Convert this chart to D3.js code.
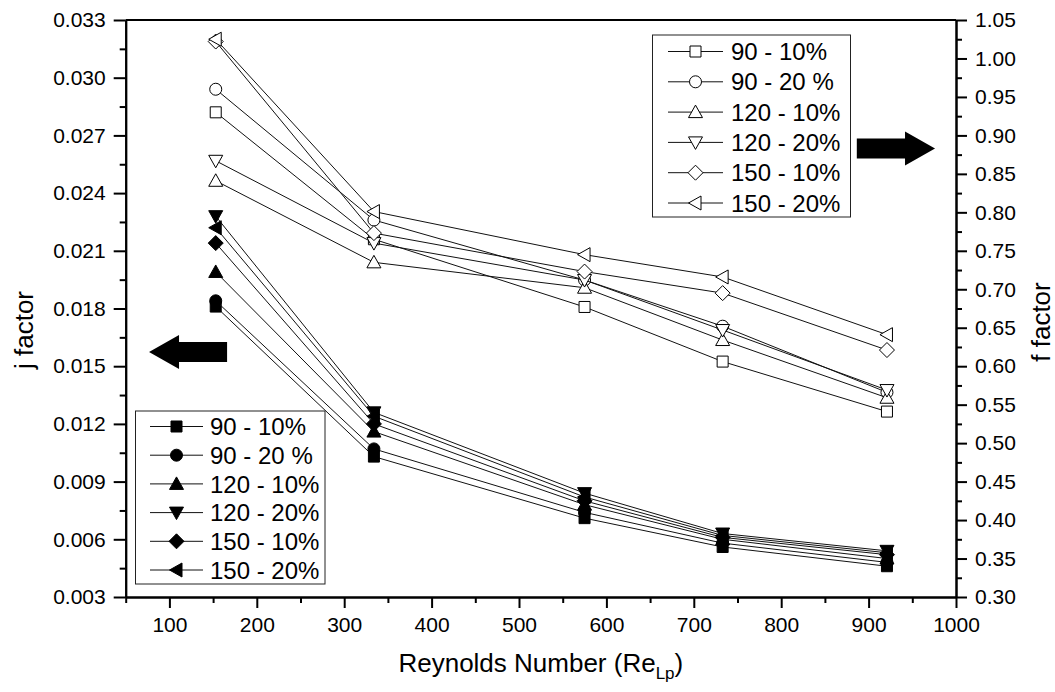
<!DOCTYPE html>
<html>
<head>
<meta charset="utf-8">
<script src="https://cdn.jsdelivr.net/npm/d3@7"></script>
<style>
    body { margin: 0; background: #fff; }
    svg text { font-family: "Liberation Sans", Arial, sans-serif; fill: #000; }
</style>
</head>
<body>
<script>
// Reynolds numbers (x) shared by every series
let reynolds = [153, 334, 575, 733, 921];
let seriesNames = ['90 - 10%', '90 - 20 %', '120 - 10%', '120 - 20%', '150 - 10%', '150 - 20%'];
let shapes = ['square', 'circle', 'triUp', 'triDown', 'diamond', 'triLeft'];

// j factor (filled markers, left axis)
let j90_10 = [0.0181, 0.0103, 0.0071, 0.0056, 0.0046];
let j90_20 = [0.0184, 0.0107, 0.0074, 0.0058, 0.0048];
let j120_10 = [0.0199, 0.0116, 0.0078, 0.0060, 0.0050];
let j120_20 = [0.0228, 0.0126, 0.0084, 0.0063, 0.0054];
let j150_10 = [0.0214, 0.0120, 0.0080, 0.0061, 0.0052];
let j150_20 = [0.0222, 0.0124, 0.0082, 0.0062, 0.0053];

// f factor (open markers, right axis)
let f90_10 = [0.930, 0.765, 0.677, 0.606, 0.541];
let f90_20 = [0.960, 0.790, 0.712, 0.652, 0.566];
let f120_10 = [0.841, 0.735, 0.702, 0.634, 0.559];
let f120_20 = [0.867, 0.760, 0.712, 0.647, 0.569];
let f150_10 = [1.022, 0.773, 0.723, 0.695, 0.621];
let f150_20 = [1.025, 0.801, 0.745, 0.716, 0.641];

let jTicks = d3.range(11).map(i => 0.003 + i * 0.003);
let fTicks = d3.range(16).map(i => 0.30 + i * 0.05);
let xTicks = d3.range(1, 11).map(i => i * 100);

let jSeries = [j90_10, j90_20, j120_10, j120_20, j150_10, j150_20];
let fSeries = [f90_10, f90_20, f120_10, f120_20, f150_10, f150_20];

let width = 1055;
let height = 692;
let plot = { left: 125.7, right: 956, top: 20, bottom: 597 };

let xScale = d3.scaleLinear().domain([50, 1000]).range([plot.left, plot.right]);
let yLeft = d3.scaleLinear().domain([0.003, 0.033]).range([plot.bottom, plot.top]);
let yRight = d3.scaleLinear().domain([0.30, 1.05]).range([plot.bottom, plot.top]);

let svg = d3.select("body").append("svg")
    .attr("width", width)
    .attr("height", height);

function shapePath(shape) {
    if (shape == 'square') return 'M-5.5,-5.5H5.5V5.5H-5.5Z';
    if (shape == 'circle') return 'M6,0A6,6 0 1,1 -6,0A6,6 0 1,1 6,0Z';
    if (shape == 'triUp') return 'M0,-7L7,5.5L-7,5.5Z';
    if (shape == 'triDown') return 'M0,7L7,-5.5L-7,-5.5Z';
    if (shape == 'diamond') return 'M0,-7.5L7.5,0L0,7.5L-7.5,0Z';
    return 'M-7,0L5.5,-7L5.5,7Z';
}

// axes
let tickFont = "21px";

svg.append('g')
    .attr('transform', 'translate(' + plot.left + ',0)')
    .call(d3.axisLeft(yLeft).tickValues(jTicks).tickFormat(d3.format('.3f'))
        .tickSize(12).tickPadding(8).tickSizeOuter(0));
svg.append('g')
    .attr('transform', 'translate(' + plot.left + ',0)')
    .call(d3.axisLeft(yLeft).tickValues(jTicks.slice(0, -1).map(d => d + 0.0015))
        .tickFormat('').tickSize(6).tickSizeOuter(0));

svg.append('g')
    .attr('transform', 'translate(' + plot.right + ',0)')
    .call(d3.axisRight(yRight).tickValues(fTicks).tickFormat(d3.format('.2f'))
        .tickSize(11).tickPadding(8).tickSizeOuter(0));
svg.append('g')
    .attr('transform', 'translate(' + plot.right + ',0)')
    .call(d3.axisRight(yRight).tickValues(fTicks.slice(0, -1).map(d => d + 0.025))
        .tickFormat('').tickSize(6).tickSizeOuter(0));

svg.append('g')
    .attr('transform', 'translate(0,' + plot.bottom + ')')
    .call(d3.axisBottom(xScale).tickValues(xTicks).tickFormat(d3.format('d'))
        .tickSize(11).tickPadding(9).tickSizeOuter(0));
svg.append('g')
    .attr('transform', 'translate(0,' + plot.bottom + ')')
    .call(d3.axisBottom(xScale).tickValues(xTicks.map(d => d - 50))
        .tickFormat('').tickSize(6).tickSizeOuter(0));

svg.append('line')
    .attr('x1', plot.left).attr('x2', plot.right)
    .attr('y1', plot.top).attr('y2', plot.top)
    .attr('stroke', '#000').attr('stroke-width', 2);

svg.selectAll('.domain').attr('stroke-width', 2);
svg.selectAll('.tick line').attr('stroke-width', 2);
svg.selectAll('.tick text')
    .style('font-size', tickFont)
    .style('font-family', '"Liberation Sans", Arial, sans-serif');

// axis titles
svg.append('text')
    .attr('transform', 'translate(33,330) rotate(-90)')
    .attr('text-anchor', 'middle')
    .style('font-size', '26px')
    .text('j factor');
svg.append('text')
    .attr('transform', 'translate(1050,322) rotate(-90)')
    .attr('text-anchor', 'middle')
    .style('font-size', '26px')
    .text('f factor');
let xTitle = svg.append('text')
    .attr('x', (plot.left + plot.right) / 2)
    .attr('y', 672)
    .attr('text-anchor', 'middle')
    .style('font-size', '26px');
xTitle.append('tspan').text('Reynolds Number (Re');
xTitle.append('tspan').attr('dy', 7).style('font-size', '17px').text('Lp');
xTitle.append('tspan').attr('dy', -7).text(')');

// series lines and markers
let line = d3.line();

function drawSeries(values, yScale, shape, filled) {
    let pts = reynolds.map((r, i) => [xScale(r), yScale(values[i])]);
    svg.append('path')
        .attr('d', line(pts))
        .attr('fill', 'none')
        .attr('stroke', '#111')
        .attr('stroke-width', 1);
    svg.append('g').selectAll('path')
        .data(pts)
        .join('path')
        .attr('transform', d => 'translate(' + d[0] + ',' + d[1] + ')')
        .attr('d', shapePath(shape))
        .attr('fill', filled ? '#000' : '#fff')
        .attr('stroke', '#000')
        .attr('stroke-width', 1);
}

fSeries.forEach((s, i) => drawSeries(s, yRight, shapes[i], false));
jSeries.forEach((s, i) => drawSeries(s, yLeft, shapes[i], true));

// legends
function drawLegend(box, rowY, filled) {
    let g = svg.append('g');
    g.append('rect')
        .attr('x', box.x).attr('y', box.y)
        .attr('width', box.w).attr('height', box.h)
        .attr('fill', '#fff').attr('stroke', '#222').attr('stroke-width', 1);
    seriesNames.forEach((name, i) => {
        let y = rowY[i];
        g.append('line')
            .attr('x1', box.lineX1).attr('x2', box.lineX2)
            .attr('y1', y).attr('y2', y)
            .attr('stroke', '#111').attr('stroke-width', 1);
        g.append('path')
            .attr('transform', 'translate(' + (box.lineX1 + box.lineX2) / 2 + ',' + y + ')')
            .attr('d', shapePath(shapes[i]))
            .attr('fill', filled ? '#000' : '#fff')
            .attr('stroke', '#000');
        g.append('text')
            .attr('x', box.textX).attr('y', y)
            .attr('dy', '0.36em')
            .style('font-size', '24px')
            .text(name);
    });
}

drawLegend({ x: 652.5, y: 35, w: 198, h: 182, lineX1: 668, lineX2: 723, textX: 731 },
    d3.range(6).map(i => 51.5 + i * 30.3), false);
drawLegend({ x: 135.5, y: 411, w: 189.5, h: 173, lineX1: 150, lineX2: 203, textX: 210 },
    d3.range(6).map(i => 426.5 + i * 28.7), true);

// block arrows pointing to each axis
function blockArrow(tipX, tailX, cy, dir) {
    let head = 30 * dir;
    let body = 10, wing = 17;
    let p = d3.path();
    p.moveTo(tipX, cy);
    p.lineTo(tipX - head, cy - wing);
    p.lineTo(tipX - head, cy - body);
    p.lineTo(tailX, cy - body);
    p.lineTo(tailX, cy + body);
    p.lineTo(tipX - head, cy + body);
    p.lineTo(tipX - head, cy + wing);
    p.closePath();
    svg.append('path').attr('d', p.toString()).attr('fill', '#000');
}
blockArrow(xScale(76.7), xScale(166), yLeft(0.01574), -1);
blockArrow(xScale(976), xScale(886.5), yRight(0.883), 1);
</script>
</body>
</html>
